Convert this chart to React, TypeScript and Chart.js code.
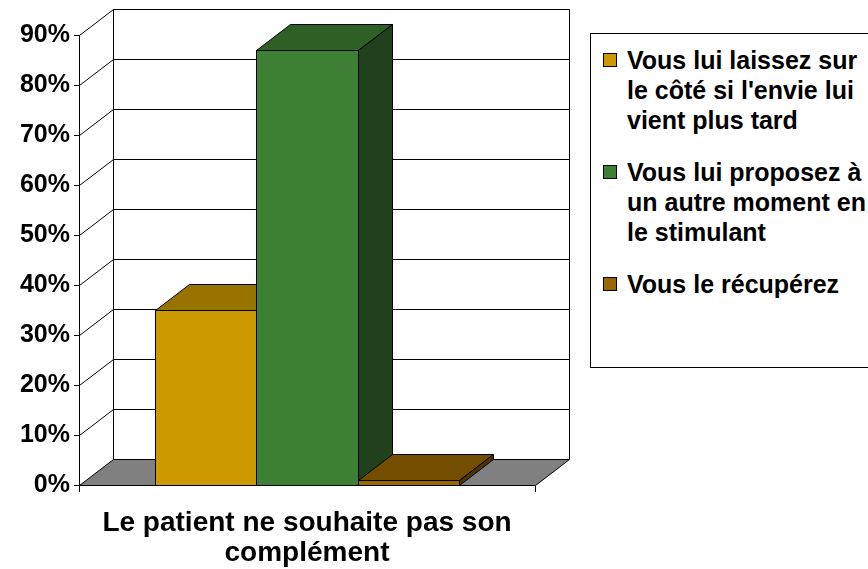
import React, { useEffect, useRef } from "react";
import { Chart, registerables } from "chart.js";

Chart.register(...registerables);

// ---- data ----
const categories = [["Le patient ne souhaite pas son", "complément"]];
const seriesLabels = [
  "Vous lui laissez sur le côté si l'envie lui vient plus tard",
  "Vous lui proposez à un autre moment en le stimulant",
  "Vous le récupérez",
];
const seriesYellow = [35];
const seriesGreen = [87];
const seriesBrown = [1];
const yMin = 0;
const yMax = 90;
const yStep = 10;

// ---- styles ----
const frontColors = ["#CC9900", "#3D8033", "#996600"];
const topColors = ["#997300", "#2E6026", "#734D00"];
const sideColors = ["#735600", "#21401C", "#4D3300"];
const DX = 34;
const DY = -26;
const FONT = "'Liberation Sans', Arial, Helvetica, sans-serif";

const box3d = {
  id: "box3d",
  beforeDatasetsDraw(chart: any) {
    const { ctx, chartArea: a, scales } = chart;
    const ys = scales.y;
    const L = Math.round(a.left) + 0.5;
    const R = Math.round(a.right) + 0.5;
    const B = Math.round(a.bottom) + 0.5;
    const T = Math.round(a.top) + 0.5;
    ctx.save();
    ctx.lineWidth = 1;
    ctx.strokeStyle = "#000";
    // floor
    ctx.beginPath();
    ctx.moveTo(L, B);
    ctx.lineTo(R, B);
    ctx.lineTo(R + DX, B + DY);
    ctx.lineTo(L + DX, B + DY);
    ctx.closePath();
    ctx.fillStyle = "#808080";
    ctx.fill();
    ctx.stroke();
    // grid on side and back walls
    ys.ticks.forEach((t: any) => {
      if (t.value === yMin) return;
      const py = Math.round(ys.getPixelForValue(t.value)) + 0.5;
      ctx.beginPath();
      ctx.moveTo(L, py);
      ctx.lineTo(L + DX, py + DY);
      ctx.lineTo(R + DX, py + DY);
      ctx.stroke();
    });
    // back wall verticals
    ctx.beginPath();
    ctx.moveTo(L + DX, T + DY);
    ctx.lineTo(L + DX, B + DY);
    ctx.moveTo(R + DX, T + DY);
    ctx.lineTo(R + DX, B + DY);
    ctx.stroke();
    ctx.restore();
  },
  afterDatasetsDraw(chart: any) {
    const { ctx } = chart;
    ctx.save();
    ctx.lineWidth = 1;
    ctx.strokeStyle = "#000";
    ctx.lineJoin = "miter";
    chart.data.datasets.forEach((ds: any, i: number) => {
      const meta = chart.getDatasetMeta(i);
      meta.data.forEach((el: any) => {
        const p = el.getProps(["x", "y", "base", "width"], true);
        const l = Math.round(p.x - p.width / 2) + 0.5;
        const r = Math.round(p.x + p.width / 2) + 0.5;
        const t = Math.round(p.y) + 0.5;
        const b = Math.round(p.base) + 0.5;
        // front
        ctx.beginPath();
        ctx.rect(l, t, r - l, b - t);
        ctx.fillStyle = frontColors[i];
        ctx.fill();
        ctx.stroke();
        // top
        ctx.beginPath();
        ctx.moveTo(l, t);
        ctx.lineTo(r, t);
        ctx.lineTo(r + DX, t + DY);
        ctx.lineTo(l + DX, t + DY);
        ctx.closePath();
        ctx.fillStyle = topColors[i];
        ctx.fill();
        ctx.stroke();
        // side
        ctx.beginPath();
        ctx.moveTo(r, t);
        ctx.lineTo(r + DX, t + DY);
        ctx.lineTo(r + DX, b + DY);
        ctx.lineTo(r, b);
        ctx.closePath();
        ctx.fillStyle = sideColors[i];
        ctx.fill();
        ctx.stroke();
      });
    });
    ctx.restore();
  },
};

export default function App() {
  const ref = useRef<HTMLCanvasElement | null>(null);

  useEffect(() => {
    if (!ref.current) return;
    const seriesData = [seriesYellow, seriesGreen, seriesBrown];
    const chart = new Chart(ref.current, {
      type: "bar",
      data: {
        labels: categories as any,
        datasets: seriesData.map((d, i) => ({
          label: seriesLabels[i],
          data: d,
          backgroundColor: frontColors[i],
          borderColor: "#000",
          borderWidth: 1,
          categoryPercentage: 304 / 456,
          barPercentage: 1,
        })),
      },
      options: {
        responsive: false,
        animation: false,
        layout: { padding: { left: 0, top: 35, right: 333, bottom: 0 } },
        plugins: {
          legend: { display: false },
          tooltip: { enabled: false },
        },
        scales: {
          x: {
            afterFit: (s: any) => {
              s.height = 84;
            },
            grid: {
              drawOnChartArea: false,
              drawTicks: true,
              tickLength: 7,
              color: "#000",
            },
            border: { display: true, color: "#000" },
            ticks: {
              color: "#000",
              padding: 16,
              font: { family: FONT, size: 28, weight: "bold", lineHeight: 1.08 },
            },
          },
          y: {
            min: yMin,
            max: yMax,
            afterFit: (s: any) => {
              s.width = 79;
            },
            ticks: {
              stepSize: yStep,
              color: "#000",
              padding: 4,
              callback: (v: any) => v + "%",
              font: { family: FONT, size: 25, weight: "bold" },
            },
            grid: {
              drawOnChartArea: false,
              drawTicks: true,
              tickLength: 5,
              color: "#000",
            },
            border: { display: true, color: "#000" },
          },
        },
      },
      plugins: [box3d],
    });
    return () => chart.destroy();
  }, []);

  return (
    <div
      style={{
        position: "fixed",
        left: 0,
        top: 0,
        width: 868,
        height: 569,
        overflow: "hidden",
        background: "#fff",
      }}
    >
      <canvas ref={ref} width={868} height={569} style={{ width: 868, height: 569, display: "block" }} />
      <div
        style={{
          position: "absolute",
          left: 590,
          top: 33,
          width: 320,
          height: 335,
          border: "1px solid #000",
          boxSizing: "border-box",
          background: "#fff",
          fontFamily: FONT,
          fontWeight: "bold",
          fontSize: 25,
          lineHeight: "30px",
          color: "#000",
          paddingTop: 11,
        }}
      >
        {seriesLabels.map((lab, i) => (
          <div key={i} style={{ position: "relative", paddingLeft: 36, marginBottom: 22, width: 244 }}>
            <span
              style={{
                position: "absolute",
                left: 12,
                top: 8,
                width: 12,
                height: 12,
                background: frontColors[i],
                border: "1px solid #000",
              }}
            />
            {lab}
          </div>
        ))}
      </div>
    </div>
  );
}
